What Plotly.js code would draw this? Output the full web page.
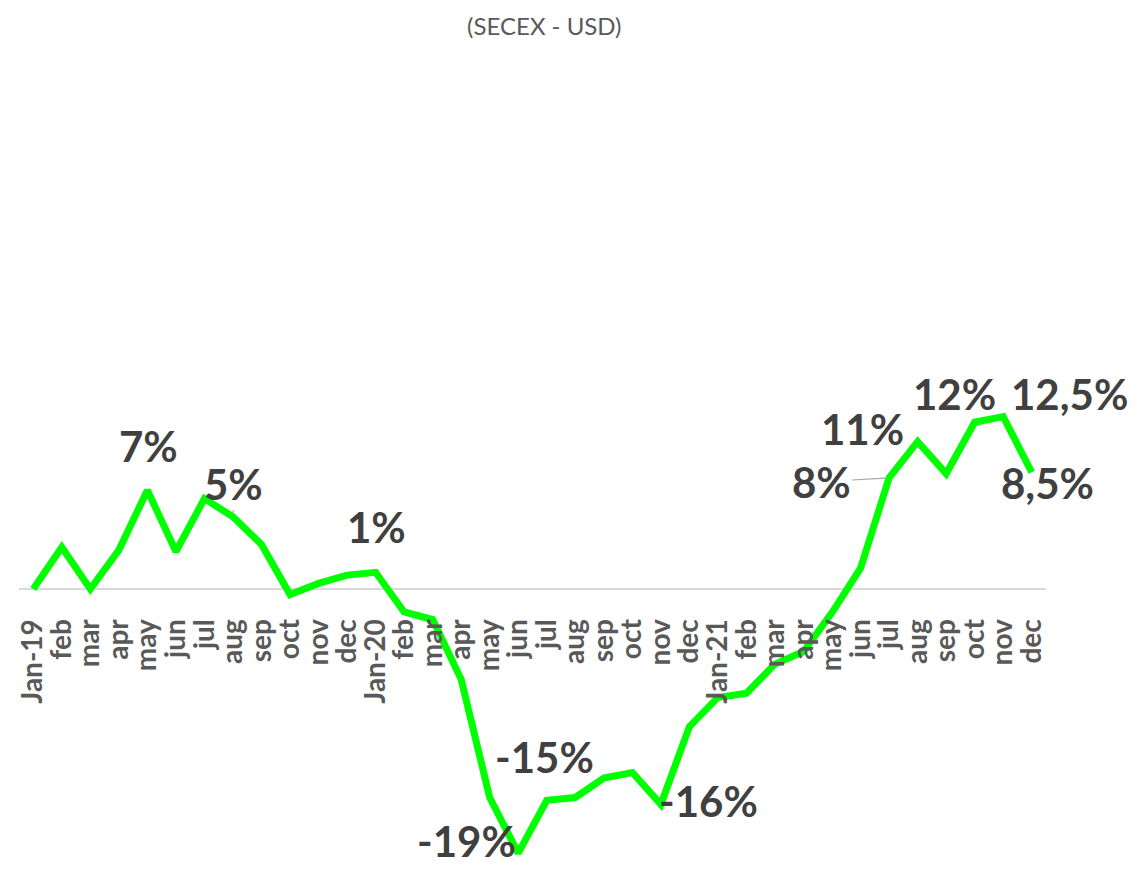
<!DOCTYPE html>
<html>
<head>
<meta charset="utf-8">
<script src="https://cdn.plot.ly/plotly-3.0.1.min.js"></script>
<style>html,body{margin:0;padding:0;background:#fff;}#chart{width:1134px;height:871px;}</style>
</head>
<body>
<div id="chart"></div>
<script>
// Data
const months = ["2019-01","2019-02","2019-03","2019-04","2019-05","2019-06","2019-07","2019-08","2019-09","2019-10","2019-11","2019-12",
                "2020-01","2020-02","2020-03","2020-04","2020-05","2020-06","2020-07","2020-08","2020-09","2020-10","2020-11","2020-12",
                "2021-01","2021-02","2021-03","2021-04","2021-05","2021-06","2021-07","2021-08","2021-09","2021-10","2021-11","2021-12"];
const tickLabels = ["Jan-19","feb","mar","apr","may","jun","jul","aug","sep","oct","nov","dec",
                    "Jan-20","feb","mar","apr","may","jun","jul","aug","sep","oct","nov","dec",
                    "Jan-21","feb","mar","apr","may","jun","jul","aug","sep","oct","nov","dec"];
const values = [0, 3.0, 0, 2.8, 7.1, 2.7, 6.5, 5.2, 3.2, -0.4, 0.4, 1.0,
                1.2, -1.65, -2.2, -6.5, -15.0, -19.0, -15.2, -15.0, -13.6, -13.2, -15.5, -9.9,
                -7.8, -7.5, -5.4, -4.5, -1.7, 1.5, 8.0, 10.6, 8.3, 12.0, 12.4, 8.4];
const labelIndex = [4, 7, 12, 17, 18, 22, 30, 31, 33, 34, 35];
const labelTexts = ["7%", "5%", "1%", "-19%", "-15%", "-16%", "8%", "11%", "12%", "12,5%", "8,5%"];

// Label placement (pixel offsets): [xshift, yshift, arrow]
const labelPlacement = [
  {xs: 1, ys: 44}, {ax: 1, ay: -33}, {xs: 1, ys: 45}, {xs: -52, ys: 12}, {xs: -2, ys: 43},
  {xs: 48, ys: 3}, {ax: -68, ay: 4}, {xs: -55, ys: 13}, {xs: -20, ys: 28}, {xs: 66, ys: 23}, {xs: 16, ys: -11}
];

const labelFont = {family: "Lato, 'Open Sans', sans-serif", size: 42, color: "#404040", weight: 700};

const annotations = labelIndex.map((idx, i) => {
  const p = labelPlacement[i];
  const a = {
    x: months[idx], y: values[idx], xref: "x", yref: "y",
    text: "<b>" + labelTexts[i] + "</b>", font: labelFont
  };
  if (p.ax !== undefined) {
    Object.assign(a, {showarrow: true, arrowhead: 0, arrowwidth: 1.2, arrowcolor: "#a6a6a6",
                      ax: p.ax, ay: p.ay, standoff: 4});
  } else {
    Object.assign(a, {showarrow: false, xshift: p.xs, yshift: p.ys});
  }
  return a;
});

const trace = {
  x: months, y: values, type: "scatter", mode: "lines",
  line: {color: "#00ff00", width: 7},
  hoverinfo: "skip"
};

const layout = {
  width: 1134, height: 871,
  margin: {l: 19, r: 88, t: 50, b: 0},
  paper_bgcolor: "#ffffff", plot_bgcolor: "#ffffff",
  showlegend: false,
  title: {
    text: "(SECEX - USD)",
    font: {family: "Lato, 'Open Sans', sans-serif", size: 24, color: "#595959"},
    xref: "container", x: 0.48, xanchor: "center",
    yref: "container", y: 1 - 27/871, yanchor: "middle"
  },
  xaxis: {
    type: "category", range: [-0.5, 35.5],
    tickvals: months, ticktext: tickLabels,
    tickangle: -90, anchor: "free", position: (871 - 589) / 821,
    showline: false, showgrid: false, zeroline: false,
    ticks: "outside", ticklen: 18, tickcolor: "rgba(0,0,0,0)",
    tickfont: {family: "Lato, 'Open Sans', sans-serif", size: 28, color: "#595959", weight: 700}
  },
  yaxis: {
    range: [-(871 - 589) / 13.9, (589 - 50) / 13.9],
    showgrid: false, showticklabels: false, ticks: "",
    zeroline: true, zerolinecolor: "#d9d9d9", zerolinewidth: 2,
    showline: false
  },
  annotations: annotations
};

Plotly.newPlot("chart", [trace], layout, {displayModeBar: false, staticPlot: true});
</script>
</body>
</html>
